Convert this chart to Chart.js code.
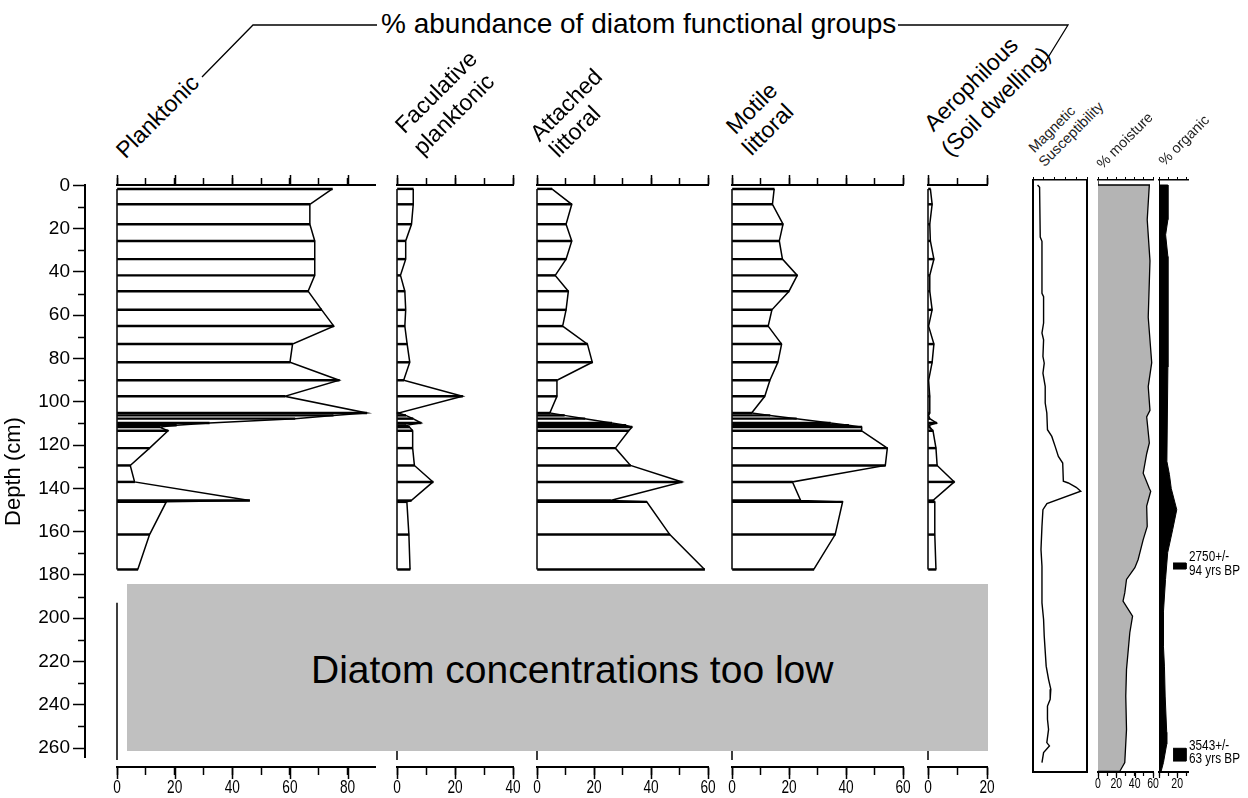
<!DOCTYPE html>
<html>
<head>
<meta charset="utf-8">
<title>Diatom functional groups</title>
<script src="https://cdn.jsdelivr.net/npm/chart.js@4.4.1/dist/chart.umd.min.js"></script>
<style>
  html, body { margin: 0; padding: 0; background: #fff; }
  #page { position: relative; width: 1248px; height: 798px; overflow: hidden; background: #fff;
          font-family: "Liberation Sans", Arial, Helvetica, sans-serif; color: #000; }
  #page canvas { position: absolute; }
  .rot { position: absolute; white-space: nowrap; transform-origin: 0 0; transform: rotate(-45deg); line-height: 1; }
  .rot.small { color: #222; }
  #title { position: absolute; left: 381px; top: 9px; font-size: 28px; line-height: 29px; white-space: nowrap; }
  #gap { position: absolute; left: 127px; top: 584px; width: 861px; height: 167px; background: #c0c0c0; z-index: 5; }
  #gap span { position: absolute; left: 184px; top: 66px; font-size: 39px; line-height: 39px; white-space: nowrap; }
  #leaders { position: absolute; left: 0; top: 0; }
</style>
</head>
<body>
<div id="page">
  <svg id="leaders" width="1248" height="798">
    <polyline points="202,77 253,25 377,25" fill="none" stroke="#000" stroke-width="1.3"/>
    <polyline points="898,25 1068,25 1044,64" fill="none" stroke="#000" stroke-width="1.3"/>
  </svg>
  <div id="title">% abundance of diatom functional groups</div>
  <div id="gap"><span>Diatom concentrations too low</span></div>
</div>
<script>
// ---- data ----
// diatom samples, depth in cm
const sampleDepth = [1.8, 8.9, 18.1, 25.8, 34.2, 41.7, 49.0, 57.6, 65.1, 73.4, 81.8, 90.1, 97.5,
  105.2, 106.3, 107.8, 109.8, 110.9, 111.7, 113.4, 121.4, 129.4, 137.0, 145.6, 146.2, 161.3, 177.4]
const planktonic = [74.7, 66.9, 66.9, 68.6, 68.6, 68.6, 66.3, 71, 75.2, 60.9, 60, 77.1, 58.2,
  86.6, 75, 61.7, 32, 20.6, 14.8, 17.7, 11.3, 4.6, 6.1, 46, 17.1, 11.3, 7.2]
const facultative = [5.6, 5.6, 5, 3, 3, 1.2, 2.7, 3, 2.7, 3.5, 4.4, 2.3, 22.6,
  0.5, 3, 5.5, 8.3, 3.1, 4.3, 5.4, 5.4, 6, 12.4, 4.9, 3.4, 4.1, 4.5]
const attached = [5.2, 12.2, 10.2, 12.2, 10.2, 6.4, 11, 10.2, 9, 17.7, 19.4, 7, 7,
  4.5, 9.6, 16.8, 26.2, 31.1, 33.3, 32.2, 27.5, 32.8, 50.9, 25.8, 38.5, 46.6, 58.8]
const motile = [14.8, 14.2, 17.9, 16.6, 17.7, 22.9, 20, 14, 12.7, 17.4, 16.1, 13.3, 11.5,
  6.9, 13.3, 22.6, 34.5, 40.9, 45.5, 45.5, 54.5, 53.8, 21.2, 24.1, 38.8, 36.2, 28.7]
const aerophilous = [0.8, 1.4, 0.6, 0.8, 2, 0.6, 0.6, 1.4, 0.2, 2, 1.4, 0.2, 0.6,
  0.6, 0.2, 0.6, 2.9, 0.4, 0.6, 1.7, 2.7, 3.1, 8.9, 1.7, 2.3, 2.3, 2.7]
// samples with too few diatoms (all groups zero)
const lowCountDepth = [192.7, 209.7, 225, 241, 257, 265.3]

const groupNames = [['Planktonic'], ['Faculative', 'planktonic'], ['Attached', 'littoral'],
  ['Motile', 'littoral'], ['Aerophilous', '(Soil dwelling)']]
const groupValues = [planktonic, facultative, attached, motile, aerophilous]
const groupMax = [89.5, 40, 60, 60, 20]
const groupTicks = [[0, 20, 40, 60, 80], [0, 20, 40], [0, 20, 40, 60], [0, 20, 40, 60], [0, 20]]

const magDepth = [0, 1, 24, 26, 50, 51.5, 63.7, 68.3, 71.4, 79.1, 82.2, 86.8, 92.9, 100.6, 105.2,
  112.9, 116, 120.6, 125.2, 128.3, 136.7, 137.5, 139.5, 141.3, 147, 149.8, 157.5, 168.2, 175.9,
  192.8, 200.5, 208.2, 222, 228.1, 232.7, 237.3, 240.4, 246.5, 251.2, 257.3, 258.8, 261.9, 266.5]
const magSus = [4.2, 6.1, 6.7, 8.3, 8.3, 9.8, 9.8, 8.3, 9.8, 9.2, 10.4, 9.2, 11.3, 11.3, 12.8,
  13.4, 17.4, 20.5, 23.5, 27.5, 28.1, 32.7, 40, 44.2, 12.9, 9.2, 8.3, 7.4, 8.3,
  8.3, 9.8, 10.4, 12.2, 14.4, 16.5, 15.9, 13.4, 13.4, 14.4, 12.8, 15.2, 9.8, 8.3]

const moistDepth = [0, 16, 35, 61, 82, 93, 104, 107, 119, 124, 133, 140, 141.3, 148.2, 157.5,
  163.6, 172.8, 176.6, 182, 188.2, 192, 198.9, 206.6, 223.5, 235.8, 251.2, 266.5, 270.6]
const moisture = [56, 53.7, 56.7, 54.8, 58.6, 54.8, 56.7, 53.1, 56, 53.1, 49.3, 56, 57.5, 53.1, 53.7,
  49.3, 43.8, 40.2, 31.1, 29.2, 27.3, 37.7, 34.7, 31.1, 30.3, 31.1, 29.2, 23.7]
const moistTicks = [0, 20, 40, 60]

const orgDepth = [0, 16, 23, 33, 84, 127.5, 133.6, 140, 149.8, 159, 169.6, 182, 197, 212.8,
  222, 235.8, 252.5, 258, 266.5, 270.6]
const organic = [9.8, 9.8, 7.3, 9.8, 9.8, 8.7, 11.5, 13.5, 19.6, 15.1, 9.6, 7.2, 4.9, 4.9,
  6, 6.8, 8.5, 8.5, 4.9, 2.3]
const orgTicks = [20]

// radiocarbon dates: sampled depth interval and label
const dateTop = [174.4, 259.9]
const dateBase = [177.2, 265.8]
const dateText = [['2750+/-', '94 yrs BP'], ['3543+/-', '63 yrs BP']]

// ---- layout ----
const AREA_TOP = 185          // page y of depth 0
const DIATOM_BOTTOM = 767     // page y of diatom bottom axes
const PX_PER_CM = 2.1673
const panelX = [[117, 375], [397, 513], [537, 708], [732, 903], [928, 987]]
const headingAt = [[[126, 160]], [[405, 135], [423, 157]], [[540, 143], [559, 159]],
  [[736, 136], [752, 157]], [[934, 133], [951, 158]]]
const smallHeadings = [['Magnetic', 1035, 154], ['Susceptibility', 1045, 168],
  ['% moisture', 1103, 170], ['% organic', 1165, 167]]
const RIGHT_TOP = 180, RIGHT_BOTTOM = 772
const rightMin = -(AREA_TOP - RIGHT_TOP) / PX_PER_CM
const rightMax = rightMin + (RIGHT_BOTTOM - RIGHT_TOP) / PX_PER_CM
const dateMarkX = [15.5, 29.8]
const FONT = '"Liberation Sans", Arial, Helvetica, sans-serif'

Chart.defaults.font.family = FONT
Chart.defaults.color = '#000'

// extra tick marks (long/short) and squeezed axis labels
const stratAxes = {
  id: 'stratAxes',
  afterDraw(chart, args, opts) {
    const ctx = chart.ctx
    ctx.save()
    ctx.strokeStyle = '#000'
    ctx.fillStyle = '#000'
    for (const t of opts.ticks || []) {
      const sc = chart.scales[t.scale]
      ctx.lineWidth = t.width || 1.5
      ctx.beginPath()
      for (let v = t.from; v <= t.to + 1e-9; v += t.step) {
        const p = Math.round(sc.getPixelForValue(v)) + 0.5
        if (sc.isHorizontal()) {
          const base = sc.position === 'top' ? sc.bottom : sc.top
          const dir = sc.position === 'top' ? -1 : 1
          ctx.moveTo(p, base); ctx.lineTo(p, base + dir * t.len)
        } else {
          const base = sc.position === 'left' ? sc.right : sc.left
          const dir = sc.position === 'left' ? -1 : 1
          ctx.moveTo(base, p); ctx.lineTo(base + dir * t.len, p)
        }
      }
      ctx.stroke()
    }
    for (const l of opts.labels || []) {
      const sc = chart.scales[l.scale]
      ctx.font = l.size + 'px ' + FONT
      ctx.textAlign = 'center'
      ctx.textBaseline = 'alphabetic'
      for (const v of l.values) {
        ctx.save()
        ctx.translate(sc.getPixelForValue(v), sc.top + l.dy)
        ctx.scale(l.sx, 1)
        ctx.fillText(String(v), 0, 0)
        ctx.restore()
      }
    }
    for (const n of opts.notes || []) {
      const x = chart.scales[n.xScale].getPixelForValue(n.x) + 3
      const y = chart.scales[n.yScale].getPixelForValue(n.depth)
      ctx.font = n.size + 'px ' + FONT
      ctx.textAlign = 'left'
      n.lines.forEach((txt, k) => {
        ctx.save()
        ctx.translate(x, y + n.dy[k])
        ctx.scale(n.sx, 1)
        ctx.fillText(txt, 0, 0)
        ctx.restore()
      })
    }
    ctx.restore()
  }
}
Chart.register(stratAxes)

const page = document.getElementById('page')

function addCanvas(left, top, width, height) {
  const c = document.createElement('canvas')
  c.width = width
  c.height = height
  c.style.left = left + 'px'
  c.style.top = top + 'px'
  c.style.width = width + 'px'
  c.style.height = height + 'px'
  page.appendChild(c)
  return c
}

function hAxis(pos, max, o) {
  return {
    type: 'linear', position: pos, min: 0, max, offset: false,
    ticks: {display: false, stepSize: o.step || 10, includeBounds: false},
    grid: {drawOnChartArea: false, drawTicks: o.tick > 0, tickLength: o.tick || 0,
      tickColor: '#000', tickWidth: o.tickWidth || 1.5, offset: false},
    border: {display: true, color: o.color || '#000', width: o.width || 2},
    afterFit: s => { s.height = o.tick || 0 }
  }
}

function vAxis(pos, min, max, o) {
  return {
    type: 'linear', position: pos, reverse: true, min, max, offset: false, display: o.show,
    ticks: {display: false},
    grid: {drawOnChartArea: false, drawTicks: false, offset: false},
    border: {display: true, color: o.color || '#000', width: o.width || 2},
    afterFit: s => { s.width = 0 }
  }
}

function options(padding, scales, plug) {
  return {
    responsive: false, animation: false, events: [], devicePixelRatio: 1,
    indexAxis: 'y',
    layout: {autoPadding: false, padding},
    plugins: {legend: {display: false}, tooltip: {enabled: false}, stratAxes: plug},
    scales
  }
}

function lineSet(data, extra) {
  return Object.assign({type: 'line', data, borderColor: '#000', borderWidth: 1.5,
    pointRadius: 0, tension: 0, fill: false, clip: false, xAxisID: 'xt', yAxisID: 'y'}, extra || {})
}

function polygon(depths, values) {
  const pts = depths.map((d, i) => ({x: values[i], y: d}))
  return [{x: 0, y: depths[0]}, ...pts, {x: 0, y: depths[depths.length - 1]}]
}

// ---- depth axis ----
const depthMax = (758 - AREA_TOP) / PX_PER_CM
new Chart(addCanvas(0, AREA_TOP - 14, 95, 758 - AREA_TOP + 28), {
  type: 'line',
  data: {datasets: []},
  options: options({left: 0, top: 14, right: 3, bottom: 14}, {
    x: {type: 'linear', display: false, min: 0, max: 1},
    y: {
      type: 'linear', position: 'left', reverse: true, min: 0, max: depthMax,
      ticks: {stepSize: 20, includeBounds: false, font: {size: 19}, padding: 3, color: '#000'},
      grid: {drawOnChartArea: false, tickLength: 12, tickWidth: 1.5, tickColor: '#000'},
      border: {color: '#000', width: 2},
      title: {display: true, text: 'Depth (cm)', font: {size: 22}, padding: {top: 1, bottom: 0}},
      afterFit: s => { s.width = 85 }
    }
  }, {ticks: [{scale: 'y', from: 10, to: 250, step: 20, len: 7}]})
})

// ---- diatom panels ----
const diatomMax = (DIATOM_BOTTOM - AREA_TOP) / PX_PER_CM
groupValues.forEach((vals, i) => {
  const [l, r] = panelX[i]
  const max = groupMax[i]
  const ticks = groupTicks[i]
  const pts = sampleDepth.map((d, k) => ({x: vals[k], y: d}))
  const last = sampleDepth.length - 1
  const cv = addCanvas(l - 14, AREA_TOP - 14, r - l + 28, DIATOM_BOTTOM - AREA_TOP + 14 + 31)
  new Chart(cv, {
    type: 'line',
    data: {datasets: [
      {type: 'bar', data: pts, backgroundColor: '#000', borderWidth: 0, barThickness: 1.8,
        xAxisID: 'xt', yAxisID: 'y'},
      lineSet(pts),
      lineSet([{x: 0, y: sampleDepth[0]}, {x: 0, y: sampleDepth[last]}]),
      lineSet([{x: 0, y: lowCountDepth[0]}, {x: 0, y: lowCountDepth[lowCountDepth.length - 1]}])
    ]},
    options: options({left: 14, right: 14, top: 7, bottom: 23}, {
      xt: hAxis('top', max, {tick: 7}),
      xb: hAxis('bottom', max, {tick: 8}),
      y: vAxis('left', 0, diatomMax, {show: false})
    }, {
      ticks: [
        {scale: 'xt', from: 0, to: ticks[ticks.length - 1], step: 20, len: 10},
        {scale: 'xb', from: 0, to: ticks[ticks.length - 1], step: 20, len: 12}
      ],
      labels: [{scale: 'xb', values: ticks, size: 19, sx: 0.72, dy: 26}]
    })
  })
})

// ---- magnetic susceptibility ----
new Chart(addCanvas(1029, RIGHT_TOP - 8, 62, RIGHT_BOTTOM - RIGHT_TOP + 32), {
  type: 'line',
  data: {datasets: [lineSet(magDepth.map((d, i) => ({x: magSus[i], y: d})), {borderWidth: 1.4})]},
  options: options({left: 4, right: 4, top: 5, bottom: 24}, {
    xt: hAxis('top', 50, {tick: 3, tickWidth: 1, width: 1.5}),
    xb: hAxis('bottom', 50, {tick: 0}),
    y: vAxis('left', rightMin, rightMax, {show: true}),
    yr: vAxis('right', rightMin, rightMax, {show: true})
  }, {})
})

// ---- % moisture ----
new Chart(addCanvas(1090, RIGHT_TOP - 8, 71, RIGHT_BOTTOM - RIGHT_TOP + 32), {
  type: 'line',
  data: {datasets: [lineSet(polygon(moistDepth, moisture),
    {fill: 'shape', backgroundColor: '#b4b4b4', borderWidth: 1.3})]},
  options: options({left: 8, right: 8, top: 5, bottom: 20}, {
    xt: hAxis('top', 60, {tick: 3, tickWidth: 1, width: 1.5}),
    xb: hAxis('bottom', 60, {tick: 4, tickWidth: 1.2, width: 2}),
    y: vAxis('left', rightMin, rightMax, {show: true, color: '#555', width: 1})
  }, {
    ticks: [{scale: 'xb', from: 0, to: 60, step: 20, len: 6, width: 1.2}],
    labels: [{scale: 'xb', values: moistTicks, size: 14, sx: 0.75, dy: 16}]
  })
})

// ---- % organic + dates ----
const dateSets = dateTop.map((t, k) => lineSet([
  {x: dateMarkX[0], y: t}, {x: dateMarkX[1], y: t},
  {x: dateMarkX[1], y: dateBase[k]}, {x: dateMarkX[0], y: dateBase[k]}
], {fill: 'shape', backgroundColor: '#000', borderWidth: 1}))
new Chart(addCanvas(1151, RIGHT_TOP - 8, 97, RIGHT_BOTTOM - RIGHT_TOP + 32), {
  type: 'line',
  data: {datasets: [lineSet(polygon(orgDepth, organic),
    {fill: 'shape', backgroundColor: '#000', borderWidth: 1}), ...dateSets]},
  options: options({left: 8, right: 60, top: 5, bottom: 20}, {
    xt: hAxis('top', 32, {tick: 3, tickWidth: 1, width: 1.5}),
    xb: hAxis('bottom', 32, {tick: 4, tickWidth: 1.2, width: 2}),
    y: vAxis('left', rightMin, rightMax, {show: true, width: 1})
  }, {
    ticks: [{scale: 'xb', from: 0, to: 20, step: 20, len: 6, width: 1.2}],
    labels: [{scale: 'xb', values: orgTicks, size: 14, sx: 0.75, dy: 16}],
    notes: dateText.map((lines, k) => ({xScale: 'xt', yScale: 'y', x: dateMarkX[1],
      depth: (dateTop[k] + dateBase[k]) / 2, lines, size: 14, sx: 0.84, dy: [-5, 8.5]}))
  })
})

// ---- rotated column headings ----
function heading(text, x, y, size, cls) {
  const d = document.createElement('div')
  d.className = 'rot' + (cls ? ' ' + cls : '')
  d.textContent = text
  const b = 0.846 * size * 0.7071
  d.style.fontSize = size + 'px'
  d.style.left = (x - b) + 'px'
  d.style.top = (y - b) + 'px'
  page.appendChild(d)
}
groupNames.forEach((lines, i) => {
  lines.forEach((t, k) => heading(t, headingAt[i][k][0], headingAt[i][k][1], 23))
})
smallHeadings.forEach(([t, x, y]) => heading(t, x, y, 14.5, 'small'))
</script>
</body>
</html>
